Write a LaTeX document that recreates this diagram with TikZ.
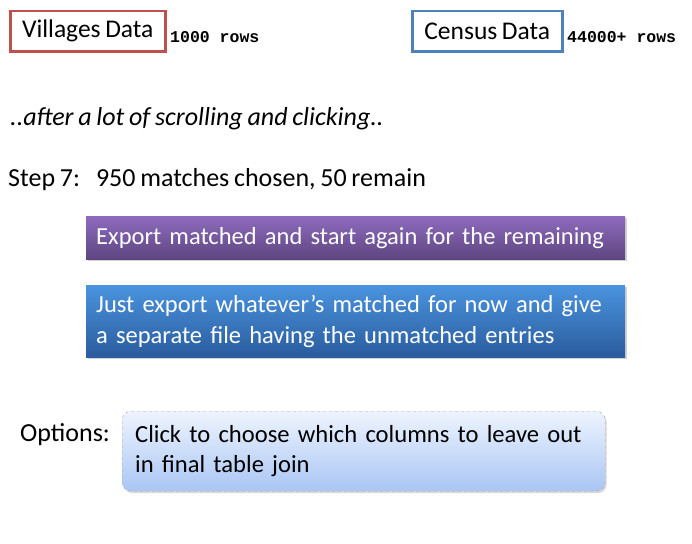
\documentclass[tikz,border=0pt]{standalone}
\usepackage{fontspec}
\setmainfont{Carlito}[WordSpace={0.8,0,0}]
\setmonofont{Liberation Mono}
\usepackage{tikz}
\usetikzlibrary{shapes,positioning,calc,shadows,backgrounds}

\definecolor{vilred}{HTML}{C0504D}
\definecolor{cenblue}{HTML}{4F81BD}
\definecolor{purptop}{HTML}{8E6BBE}
\definecolor{purpbot}{HTML}{5E4580}
\definecolor{bluetop}{HTML}{4A93DE}
\definecolor{bluebot}{HTML}{2A5C9E}
\definecolor{opttop}{HTML}{EEF4FE}
\definecolor{optbot}{HTML}{A9C6F4}

\tikzset{
  databox/.style={draw, line width=2.5pt, fill=white, minimum height=40pt, inner sep=0pt, font=\fontsize{25.5}{28}\selectfont},
  rowcount/.style={anchor=west, inner sep=0pt, font=\ttfamily\bfseries\fontsize{16.5}{18}\selectfont},
  plaintext/.style={anchor=west, inner sep=0pt, font=\fontsize{26}{30}\selectfont},
  choicebox/.style={anchor=north west, text=white, align=left, inner xsep=10pt, inner ysep=0pt,
    text width=519pt, font=\fontsize{24.5}{31}\selectfont, drop shadow={shadow xshift=1.5pt, shadow yshift=-2pt, opacity=0.35}},
  optionbox/.style={anchor=north west, draw=gray!70, dashed, rounded corners=9pt, align=left,
    top color=opttop, bottom color=optbot, inner xsep=13pt, inner ysep=0pt, text width=457pt,
    minimum height=80pt, font=\fontsize{24.6}{30}\selectfont,
    drop shadow={shadow xshift=1.5pt, shadow yshift=-2pt, opacity=0.3}}
}

\begin{document}
\begin{tikzpicture}[x=1pt,y=-1pt]
        \useasboundingbox (0,0) rectangle (692,543);
        % data sources
        \node[databox, draw=vilred, minimum width=155pt, anchor=north west] (villages) at (9,10) {Villages Data};
        \node[rowcount] (vilrows) at (170,37) {1000 rows};
        \node[databox, draw=cenblue, minimum width=150pt, anchor=north west] (census) at (411,10) {Census Data};
        \node[rowcount] (cenrows) at (567,37) {44000+ rows};
        % progress
        \node[plaintext] (scroll) at (10,119) {\itshape ..after a lot of scrolling and clicking..};
        \node[plaintext] (step) at (8,180) {Step 7:\hspace{16pt}950 matches chosen, 50 remain};
        % choices
        \node[choicebox, top color=purptop, bottom color=purpbot, minimum height=43pt] (restart) at (86,216)
          {Export matched and start again for the remaining};
        \node[choicebox, top color=bluetop, bottom color=bluebot, minimum height=72pt] (split) at (86,285)
          {Just export whatever’s matched for now and give\\a separate file having the unmatched entries};
        % options
        \node[plaintext] (options) at (20,435) {Options:};
        \node[optionbox] (columns) at (122,411)
          {Click to choose which columns to leave out\\in final table join};
    \end{tikzpicture}
\end{document}
